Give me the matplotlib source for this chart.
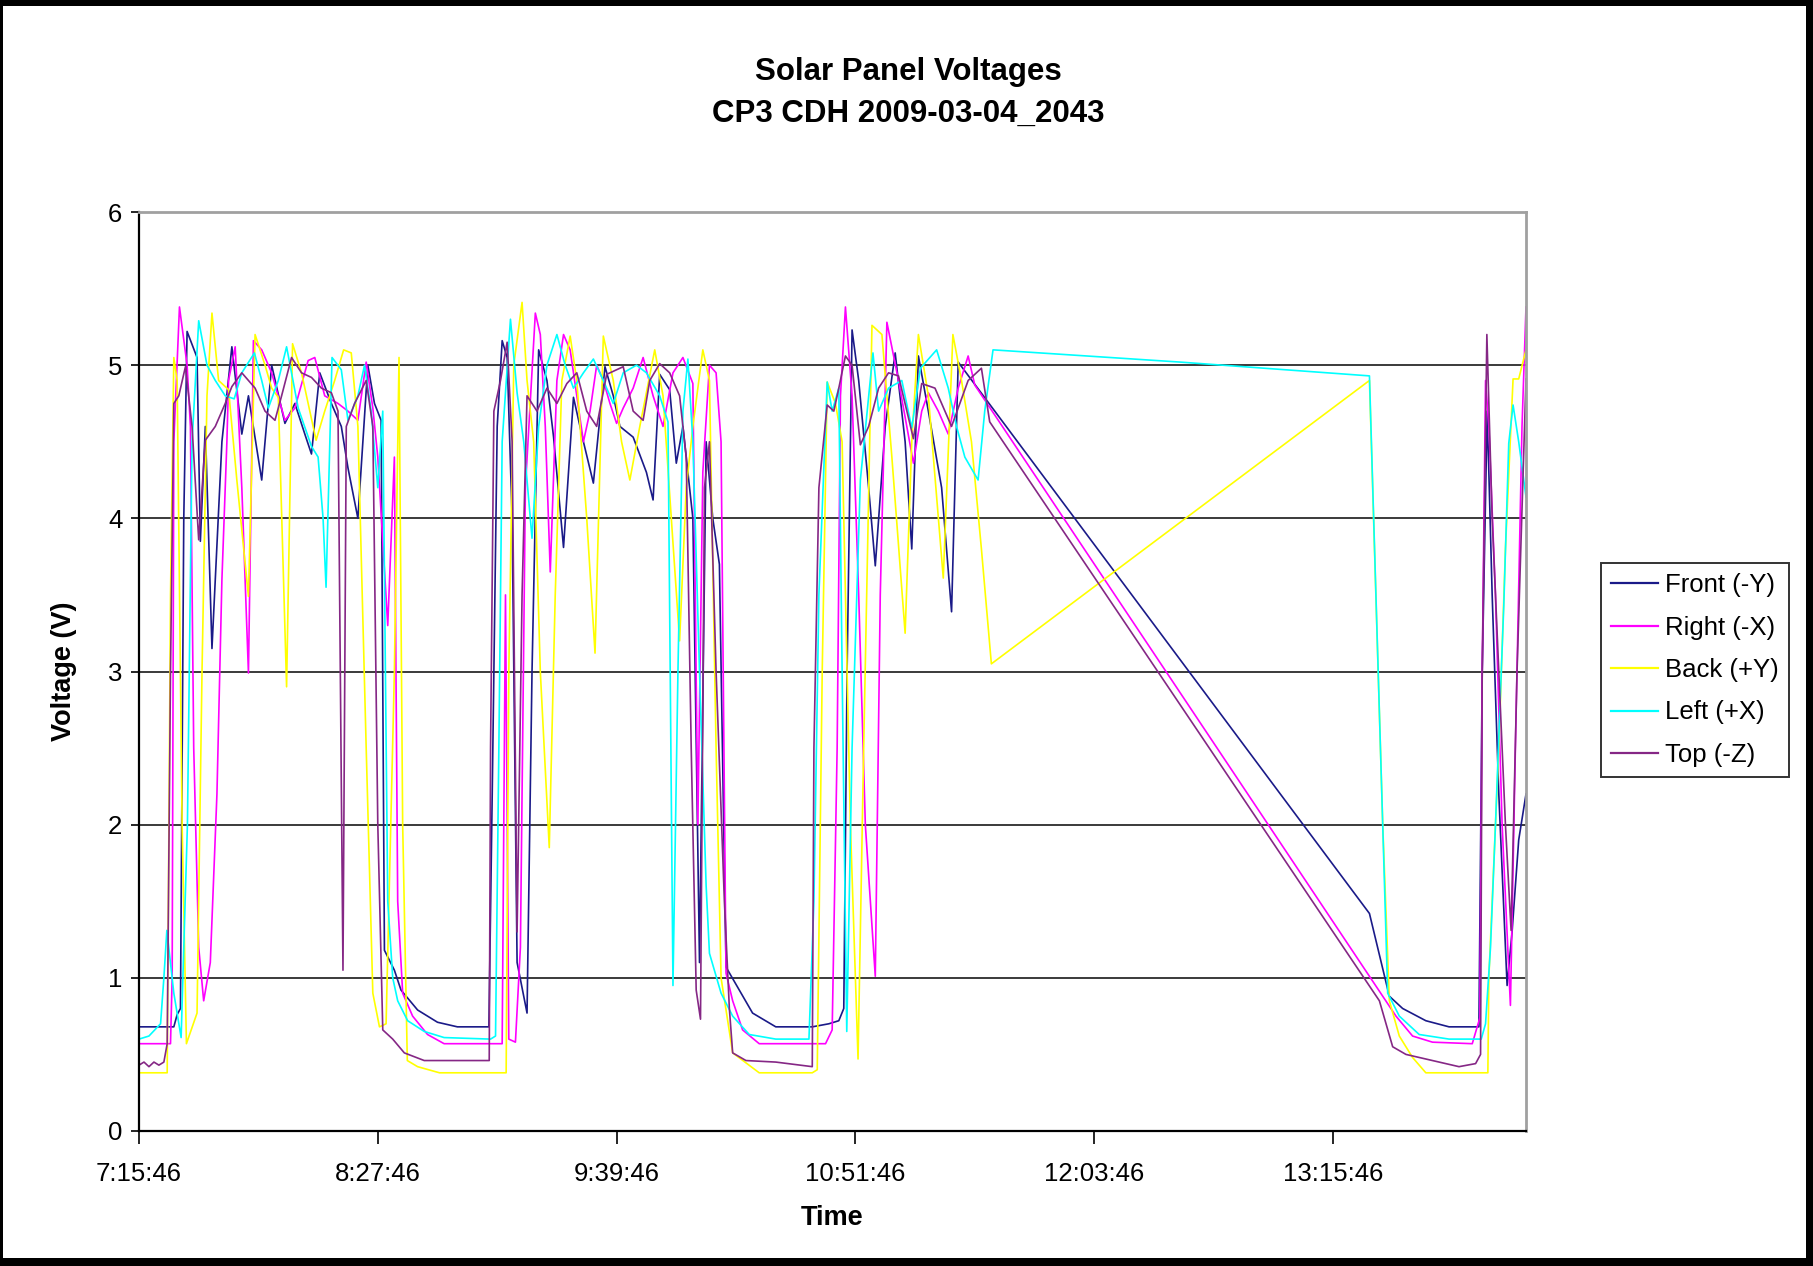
import matplotlib
matplotlib.use("Agg")
import matplotlib.pyplot as plt
from matplotlib.patches import Rectangle

plt.rcParams['font.family'] = ['Liberation Sans', 'DejaVu Sans']

# time axis: minutes after 7:15:46
start_label = '7:15:46'
xtick_labels = ['7:15:46', '8:27:46', '9:39:46', '10:51:46', '12:03:46', '13:15:46']
x_max = 418.2

# (minutes, volts)
front = [
    (0, 0.68), (10.5, 0.68), (11.5, 0.76), (12.5, 0.8), (13.5, 4.0), (14.5, 5.22), (17.5, 5.05),
    (18.5, 3.85), (20, 4.6), (22, 3.15), (25, 4.5), (28, 5.12), (31, 4.55), (33, 4.8), (37, 4.25),
    (40, 5.0), (44, 4.62), (47, 4.75), (50, 4.55), (52, 4.42), (54.5, 4.95), (58, 4.75), (61, 4.6),
    (63, 4.33), (66, 4.0), (69, 5.0), (71, 4.75), (73, 4.64), (74, 1.18), (77, 1.05), (79, 0.92),
    (84, 0.79), (90, 0.71), (96, 0.68), (105.5, 0.68),
    (106.5, 2.2), (108, 4.6), (109.5, 5.16), (111, 5.05), (112.5, 4.0), (114, 1.1), (117, 0.77),
    (118.5, 3.0), (120.5, 5.1), (123, 4.9), (125, 4.53), (128, 3.81), (131, 4.79), (134, 4.5),
    (137, 4.23), (140.5, 4.99), (143, 4.8), (145, 4.6), (149, 4.53), (153, 4.3), (155, 4.12),
    (157, 4.94), (160, 4.84), (162, 4.36), (164, 4.6), (167, 4.0), (169, 1.1), (171, 4.5),
    (173, 4.0), (175, 3.7), (177, 1.07), (181, 0.92), (185, 0.77), (192, 0.68), (203, 0.68),
    (208, 0.70), (211, 0.72),
    (212.5, 0.8), (213.5, 3.0), (215, 5.23), (217, 4.9), (220, 4.2), (222, 3.69), (225, 4.6),
    (228, 5.08), (231, 4.5), (233, 3.8), (235, 5.06), (238, 4.7), (242, 4.2), (245, 3.39),
    (247, 5.02),
    (371, 1.42), (377, 0.88), (381, 0.8), (388, 0.72), (395, 0.68), (404, 0.68),
    (405, 3.0), (406.5, 4.7), (408, 3.5), (410, 2.2), (412.5, 0.95), (414, 1.3), (416, 1.9), (418.2, 2.2),
]

right = [
    (0, 0.57), (9.5, 0.57), (10, 1.0), (10.5, 4.5), (12.2, 5.38), (14.5, 5.0), (15.5, 4.6),
    (16.5, 2.5), (18, 1.2), (19.5, 0.85), (21.5, 1.1), (23.5, 2.2), (25, 3.6), (26.5, 4.5),
    (27, 4.9), (29, 5.12), (31, 4.2), (33, 2.99), (34.5, 5.16), (37, 5.1), (40, 4.95), (44, 4.64),
    (47, 4.72), (51, 5.03), (53, 5.05), (56, 4.8), (60, 4.75), (63, 4.7), (66, 4.64), (68.5, 5.02),
    (70.5, 4.72), (72, 4.4), (75, 3.3), (77, 4.4), (78, 1.5), (79.5, 0.9), (82.5, 0.75), (87, 0.63),
    (92, 0.57), (109.5, 0.57),
    (110.5, 3.5), (111.5, 0.6), (113.5, 0.58), (115, 1.2), (116.5, 4.2), (119.5, 5.34), (121, 5.2),
    (122.5, 4.6), (124, 3.65), (126, 4.9), (128, 5.2), (130, 5.1), (132, 4.8), (134, 4.5),
    (136, 4.7), (138, 5.0), (140, 4.9), (142, 4.75), (144, 4.62), (146, 4.72), (149, 4.85),
    (152, 5.05), (155, 4.8), (158, 4.6), (161, 4.95), (164, 5.05), (167, 4.88), (168.5, 2.0),
    (170, 4.3), (172, 5.0), (174, 4.95), (175.5, 4.5), (177, 1.03), (179, 0.85), (182, 0.66),
    (187, 0.57), (207, 0.57), (209, 0.66),
    (210.5, 2.5), (211.5, 4.8), (213, 5.38), (215, 4.8), (217, 3.5), (219, 2.0), (222, 1.01),
    (223.5, 3.5), (225.5, 5.28), (229, 4.9), (233.5, 4.36), (236, 4.7), (238, 4.82), (241, 4.7),
    (244, 4.55), (247, 4.85), (250, 5.06), (252, 4.87),
    (375, 0.88), (379, 0.75), (384, 0.62), (390, 0.58), (402, 0.57), (404.3, 0.74),
    (405, 3.0), (406, 4.9), (407, 4.6), (409, 3.5), (411, 2.0), (413.5, 0.82), (415, 2.5),
    (417, 4.6), (418.2, 5.38),
]

back = [
    (0, 0.38), (8.5, 0.38), (9.5, 3.5), (10.5, 5.05), (11.5, 4.9), (13, 2.0), (14.3, 0.57),
    (17.5, 0.77), (19, 3.0), (20.5, 4.8), (22, 5.34), (24, 4.9), (27, 4.84), (29.5, 4.25),
    (33, 3.49), (35, 5.2), (38, 5.0), (40, 4.85), (42, 4.79), (44.5, 2.9), (46.3, 5.14), (49, 4.95),
    (53.4, 4.51), (56, 4.7), (59, 4.9), (61.7, 5.1), (64, 5.08), (66, 4.6), (68.5, 2.5), (70.5, 0.9),
    (72.5, 0.68), (74.5, 0.7), (77, 3.0), (78.4, 5.05), (79.5, 2.0), (80.9, 0.46), (84, 0.42),
    (90.6, 0.38), (110.7, 0.38),
    (111.5, 3.0), (113, 5.0), (115.5, 5.41), (117, 4.9), (119, 4.5), (121, 3.0), (123.7, 1.85),
    (125.5, 3.5), (127.5, 4.9), (130, 5.19), (132, 4.9), (135, 4.0), (137.5, 3.12), (140, 5.19),
    (143, 4.9), (145.5, 4.5), (148, 4.25), (151, 4.6), (155.5, 5.1), (158, 4.8), (160.5, 4.0),
    (163, 3.2), (165, 4.2), (167, 4.6), (170, 5.1), (172, 4.9), (174, 2.5), (175.5, 1.0),
    (179, 0.51), (187, 0.38), (203, 0.38),
    (204.5, 0.4), (206, 3.0), (207.5, 4.89), (210, 4.75), (212, 4.5), (214.5, 2.0), (216.8, 0.47),
    (218.5, 2.5), (221, 5.26), (224, 5.2), (227, 4.4), (231, 3.25), (233, 4.5), (235, 5.2),
    (238, 4.8), (242.5, 3.61), (245.4, 5.2), (248, 4.9), (251, 4.5), (254, 3.8), (257, 3.05),
    (371, 4.9), (375, 2.0), (377, 0.85), (380, 0.62), (384, 0.48), (388, 0.38), (406.7, 0.38),
    (407, 1.0), (408, 1.5), (410, 2.5), (412, 3.8), (414.3, 4.91), (416, 4.91), (418.2, 5.1),
]

left = [
    (0, 0.6), (3, 0.62), (6.5, 0.7), (7.5, 1.0), (8.4, 1.31), (10.5, 0.9), (12.7, 0.61),
    (14.6, 2.0), (16, 4.5), (18, 5.29), (20.5, 5.0), (23, 4.9), (26, 4.8), (28.7, 4.78), (31, 4.95),
    (34.8, 5.08), (37, 4.9), (39, 4.72), (42, 4.9), (44.5, 5.12), (48, 4.72), (52, 4.47), (54, 4.4),
    (55.5, 4.0), (56.4, 3.55), (58.2, 5.05), (61, 4.97), (63, 4.64), (66, 4.8), (68, 5.0), (70, 4.7),
    (72, 4.2), (73.5, 4.7), (75, 1.5), (76.5, 1.0), (78, 0.85), (81, 0.72), (86, 0.65), (92, 0.61),
    (106, 0.6), (107.5, 0.62),
    (108.5, 2.5), (109.5, 4.5), (112, 5.3), (114, 4.82), (116, 4.5), (118.5, 3.87), (120.5, 4.6),
    (123, 5.0), (126, 5.2), (128.5, 5.0), (131, 4.85), (134, 4.95), (137, 5.04), (140, 4.9),
    (143, 4.75), (146, 4.95), (150, 5.0), (153, 4.95), (157, 4.8), (159.5, 4.63), (161, 0.95),
    (162.5, 3.0), (164, 4.7), (165.5, 5.04), (167, 4.5), (169, 3.0), (171, 1.6), (172, 1.16),
    (175.5, 0.9), (179, 0.75), (184, 0.63), (192, 0.6), (202, 0.6),
    (203.5, 1.5), (205, 3.5), (207.5, 4.89), (209, 4.7), (211, 4.85), (212, 3.0), (213.4, 0.65),
    (215, 2.5), (217.5, 4.25), (221.3, 5.08), (223, 4.7), (226, 4.85), (230, 4.9), (233, 4.59),
    (235.6, 4.98), (240.5, 5.1), (244, 4.85), (246.5, 4.6), (249, 4.4), (253, 4.25), (255, 4.7),
    (257.5, 5.1),
    (314, 5.02), (371, 4.93), (376.5, 0.9), (380, 0.75), (386, 0.63), (395, 0.6), (404.7, 0.6),
    (406, 0.7), (407.5, 1.2), (409, 2.0), (411.5, 3.43), (413, 4.49), (414.3, 4.74), (416, 4.5),
    (418.2, 4.14),
]

top = [
    (0, 0.43), (1.5, 0.45), (3, 0.42), (4.5, 0.45), (6, 0.43), (7.5, 0.45), (8.5, 0.57),
    (9.5, 3.0), (10.5, 4.75), (12, 4.8), (14, 4.99), (16, 4.6), (18, 3.86), (20, 4.51), (23, 4.6),
    (26, 4.75), (28, 4.86), (31, 4.95), (35, 4.85), (38, 4.7), (41, 4.64), (43, 4.8), (46, 5.05),
    (49, 4.95), (52, 4.92), (55, 4.85), (58, 4.82), (60, 4.7), (61.5, 1.05), (62.5, 4.6), (65, 4.75),
    (68.5, 4.9), (70.5, 4.6), (72, 2.0), (73.5, 0.66), (76.5, 0.6), (80, 0.51), (86, 0.46),
    (105.6, 0.46),
    (106, 2.5), (107, 4.7), (109, 4.9), (111, 5.15), (112.5, 4.5), (114, 1.3), (115.5, 3.5),
    (117, 4.8), (120, 4.7), (123, 4.85), (126, 4.75), (129, 4.88), (132, 4.95), (135, 4.7),
    (138, 4.6), (141, 4.94), (146, 4.99), (149, 4.7), (152, 4.64), (154, 4.9), (157, 5.01),
    (160, 4.95), (163, 4.8), (165, 4.4), (166.5, 2.5), (168, 0.92), (169.3, 0.73), (170.5, 4.2),
    (172, 4.5), (174, 3.0), (176.5, 1.5), (178, 0.8), (179, 0.51), (183, 0.46), (192, 0.45),
    (203, 0.42),
    (203.5, 2.5), (205, 4.2), (207.5, 4.74), (209.5, 4.7), (211, 4.85), (213, 5.06), (215, 5.0),
    (217.5, 4.48), (220, 4.6), (223, 4.85), (226, 4.95), (229, 4.93), (233.5, 4.52), (236, 4.88),
    (240, 4.85), (245, 4.6), (250, 4.9), (254, 4.98), (256.5, 4.63),
    (374, 0.85), (378, 0.55), (382, 0.5), (390, 0.46), (398, 0.42), (403, 0.44), (404.5, 0.5),
    (405, 3.0), (406.4, 5.2), (408, 4.0), (410, 3.0), (412, 2.0), (413.7, 1.31), (415.5, 3.0),
    (418.2, 4.91),
]

series_names = ['Front (-Y)', 'Right (-X)', 'Back (+Y)', 'Left (+X)', 'Top (-Z)']
series_data = [front, right, back, left, top]
series_colors = ['#1a1a88', '#ff00ff', '#ffff00', '#00ffff', '#852785']


def to_minutes(label):
    h, m, s = [int(p) for p in label.split(':')]
    h0, m0, s0 = [int(p) for p in start_label.split(':')]
    return (h * 3600 + m * 60 + s - h0 * 3600 - m0 * 60 - s0) / 60.0


W, H = 1813, 1266
fig = plt.figure(figsize=(W / 100, H / 100), dpi=100, facecolor='black')
fig.patches.append(Rectangle((3 / W, 8 / H), 1803 / W, 1252 / H, transform=fig.transFigure,
                             facecolor='white', edgecolor='none', zorder=-10))

ax = fig.add_axes([139 / W, (H - 1131) / H, (1526 - 139) / W, (1131 - 212) / H])
ax.set_facecolor('white')

for name, data, col in zip(series_names, series_data, series_colors):
    t, v = zip(*data)
    ax.plot(t, v, color=col, lw=1.2, label=name)

ax.set_xlim(0, x_max)
ax.set_ylim(0, 6)
ax.set_yticks(range(0, 7))
for yy in range(1, 6):
    ax.axhline(yy, color='#3a3a3a', lw=1.4, zorder=0)

ax.set_xticks([to_minutes(l) for l in xtick_labels])
ax.set_xticklabels(xtick_labels)
ax.tick_params(axis='both', direction='out', labelsize=18.5, color='black', width=1.2)
ax.tick_params(axis='x', length=9, pad=13)
ax.tick_params(axis='y', length=6, pad=6)

for side in ['left', 'bottom']:
    ax.spines[side].set_color('black')
    ax.spines[side].set_linewidth(1.6)
for side in ['top', 'right']:
    ax.spines[side].set_color('#a0a0a0')
    ax.spines[side].set_linewidth(2.0)

ax.set_xlabel('Time', fontsize=19.5, fontweight='bold', labelpad=14)
ax.set_ylabel('Voltage (V)', fontsize=19.5, fontweight='bold', labelpad=22)

fig.text(908 / W, 1 - 72 / H, 'Solar Panel Voltages', ha='center', va='center',
         fontsize=22.5, fontweight='bold')
fig.text(908 / W, 1 - 114 / H, 'CP3 CDH 2009-03-04_2043', ha='center', va='center',
         fontsize=22.5, fontweight='bold')

leg = ax.legend(loc='center left', bbox_to_anchor=(1601 / W, 1 - 670 / H),
                bbox_transform=fig.transFigure, fontsize=18.5, frameon=True, fancybox=False,
                handlelength=1.8, handletextpad=0.3, labelspacing=0.72, borderpad=0.4,
                borderaxespad=0)
leg.get_frame().set_edgecolor('black')
leg.get_frame().set_linewidth(1.4)
for line in leg.get_lines():
    line.set_linewidth(1.6)

fig.savefig('out.png', dpi=100, facecolor=fig.get_facecolor())
